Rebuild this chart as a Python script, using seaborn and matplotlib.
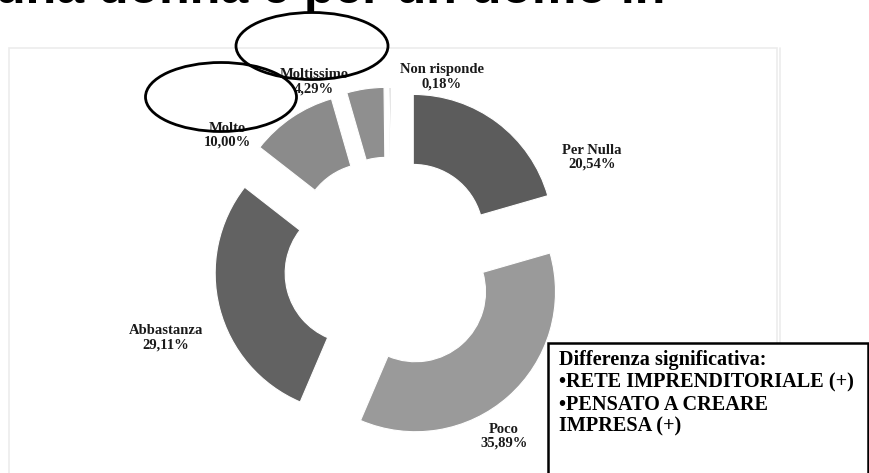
import matplotlib
matplotlib.use('Agg')
import matplotlib.pyplot as plt
import seaborn as sns
from matplotlib.patches import Ellipse, Rectangle

# ---- data ----
categories = ['Per Nulla', 'Poco', 'Abbastanza', 'Molto', 'Moltissimo', 'Non risponde']
values = [20.54, 35.89, 29.11, 10.00, 4.29, 0.18]
title_text = 'una donna e per un uomo in'
note_lines = ['Differenza significativa:', '•RETE IMPRENDITORIALE (+)',
              '•PENSATO A CREARE', 'IMPRESA (+)']

# ---- styles ----
colors = ['#5c5c5c', '#9a9a9a', '#626262', '#8b8b8b', '#8f8f8f', '#7a7a7a']
label_pos = [(592, 157), (504, 436), (166, 338), (227, 135), (314, 82), (442, 77)]

sns.set_theme(style='white')
plt.rcParams['font.family'] = ['Liberation Serif', 'DejaVu Serif']

W, H = 869, 473
fig = plt.figure(figsize=(8.69, 4.73), dpi=100)
ax = fig.add_axes([0, 0, 1, 1])


def py(y):
    return H - y


# frame of the chart area
ax.add_patch(Rectangle((9, py(490)), 768, 490 - 48, fill=False,
                       edgecolor='#ececec', linewidth=1.2, zorder=0))
ax.plot([780, 780], [py(48), py(490)], color='#ececec', lw=1.2, zorder=0)

center = (391, py(264))
ax.pie(values, colors=colors, startangle=90, counterclock=False, radius=140,
       center=center, explode=[37] * len(values), frame=True,
       wedgeprops=dict(width=70, edgecolor='white', linewidth=0.8))

ax.set_xlim(0, W)
ax.set_ylim(0, H)
ax.set_aspect('auto')
ax.axis('off')

for cat, val, (lx, ly) in zip(categories, values, label_pos):
    txt = f"{cat}\n{val:.2f}%".replace('.', ',')
    ax.text(lx, py(ly), txt, ha='center', va='center', fontsize=10.5,
            fontweight='bold', linespacing=1.1, color='#1a1a1a', zorder=5)

# title (cut at top)
ax.text(665, py(3), title_text, ha='right', va='baseline', fontsize=36,
        fontweight='bold', family=['Liberation Sans', 'DejaVu Sans'], color='black')

# ellipses
ax.add_patch(Ellipse((312, py(46)), 152, 67, fill=False, edgecolor='black', lw=2, zorder=6))
ax.add_patch(Ellipse((221, py(97)), 151, 69, fill=False, edgecolor='black', lw=2, zorder=6))

# note box
ax.add_patch(Rectangle((548, py(490)), 320, 490 - 343, facecolor='white',
                       edgecolor='black', linewidth=1.8, zorder=7))
for i, line in enumerate(note_lines):
    ax.text(559, py(360 + i * 22.3), line, ha='left', va='center', fontsize=14.6,
            fontweight='bold', color='black', zorder=8)

fig.savefig('out.png', dpi=100)
